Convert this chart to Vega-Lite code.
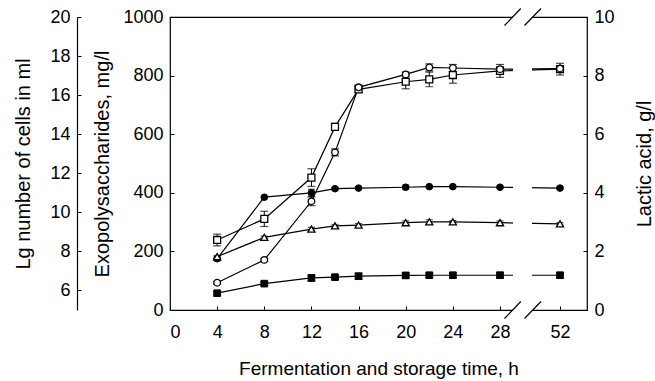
{
  "$schema": "https://vega.github.io/schema/vega-lite/v6.json",
  "width": 417,
  "height": 293,
  "autosize": {"type": "none"},
  "padding": {"left": 170, "top": 17, "right": 68, "bottom": 71},
  "background": "white",
  "config": {
    "view": {"stroke": "black", "strokeWidth": 1.2},
    "font": "Liberation Sans",
    "axis": {
      "grid": false,
      "domain": false,
      "tickColor": "black",
      "tickSize": -4,
      "tickWidth": 1,
      "labelFont": "Liberation Sans",
      "labelFontSize": 18,
      "labelColor": "black",
      "labelPadding": 11,
      "titleFont": "Liberation Sans",
      "titleFontSize": 20,
      "titleFontWeight": "normal",
      "titleColor": "black",
      "format": "d"
    }
  },
  "datasets": {
    "eps": [
      {"t": 4, "v": 239, "lo": 219, "hi": 259, "s": "A"},
      {"t": 8, "v": 311, "lo": 285, "hi": 337, "s": "A"},
      {"t": 12, "v": 452, "lo": 422, "hi": 482, "s": "A"},
      {"t": 14, "v": 625, "lo": 613, "hi": 637, "s": "A"},
      {"t": 16, "v": 753, "lo": 743, "hi": 763, "s": "A"},
      {"t": 20, "v": 779, "lo": 755, "hi": 803, "s": "A"},
      {"t": 22, "v": 787, "lo": 762, "hi": 812, "s": "A"},
      {"t": 24, "v": 802, "lo": 774, "hi": 830, "s": "A"},
      {"t": 28, "v": 816, "lo": 794, "hi": 838, "s": "A"},
      {"t": 52, "v": 822, "lo": 802, "hi": 842, "s": "A"},
      {"t": 4, "v": 93, "lo": 88, "hi": 98, "s": "B"},
      {"t": 8, "v": 171, "lo": 166, "hi": 176, "s": "B"},
      {"t": 12, "v": 371, "lo": 356, "hi": 386, "s": "B"},
      {"t": 14, "v": 538, "lo": 526, "hi": 550, "s": "B"},
      {"t": 16, "v": 760, "lo": 752, "hi": 768, "s": "B"},
      {"t": 20, "v": 804, "lo": 796, "hi": 812, "s": "B"},
      {"t": 22, "v": 828, "lo": 816, "hi": 840, "s": "B"},
      {"t": 24, "v": 826, "lo": 814, "hi": 838, "s": "B"},
      {"t": 28, "v": 822, "lo": 814, "hi": 830, "s": "B"},
      {"t": 52, "v": 824, "lo": 816, "hi": 832, "s": "B"}
    ],
    "lactic": [
      {"t": 4, "v": 1.75, "lo": 1.68, "hi": 1.82, "s": "C"},
      {"t": 8, "v": 3.85, "lo": 3.8, "hi": 3.9, "s": "C"},
      {"t": 12, "v": 4.0, "lo": 3.88, "hi": 4.12, "s": "C"},
      {"t": 14, "v": 4.14, "lo": 4.1, "hi": 4.18, "s": "C"},
      {"t": 16, "v": 4.16, "lo": 4.12, "hi": 4.2, "s": "C"},
      {"t": 20, "v": 4.19, "lo": 4.12, "hi": 4.26, "s": "C"},
      {"t": 22, "v": 4.21, "lo": 4.17, "hi": 4.25, "s": "C"},
      {"t": 24, "v": 4.21, "lo": 4.17, "hi": 4.25, "s": "C"},
      {"t": 28, "v": 4.19, "lo": 4.15, "hi": 4.23, "s": "C"},
      {"t": 52, "v": 4.16, "lo": 4.12, "hi": 4.2, "s": "C"},
      {"t": 4, "v": 1.82, "lo": 1.78, "hi": 1.86, "s": "D"},
      {"t": 8, "v": 2.48, "lo": 2.44, "hi": 2.52, "s": "D"},
      {"t": 12, "v": 2.76, "lo": 2.7, "hi": 2.82, "s": "D"},
      {"t": 14, "v": 2.87, "lo": 2.83, "hi": 2.91, "s": "D"},
      {"t": 16, "v": 2.9, "lo": 2.85, "hi": 2.95, "s": "D"},
      {"t": 20, "v": 2.98, "lo": 2.92, "hi": 3.04, "s": "D"},
      {"t": 22, "v": 3.01, "lo": 2.94, "hi": 3.08, "s": "D"},
      {"t": 24, "v": 3.01, "lo": 2.97, "hi": 3.05, "s": "D"},
      {"t": 28, "v": 2.98, "lo": 2.92, "hi": 3.04, "s": "D"},
      {"t": 52, "v": 2.94, "lo": 2.9, "hi": 2.98, "s": "D"}
    ],
    "cells": [
      {"t": 4, "v": 5.86, "lo": 5.78, "hi": 5.94, "s": "E"},
      {"t": 8, "v": 6.35, "lo": 6.27, "hi": 6.43, "s": "E"},
      {"t": 12, "v": 6.64, "lo": 6.49, "hi": 6.79, "s": "E"},
      {"t": 14, "v": 6.68, "lo": 6.6, "hi": 6.76, "s": "E"},
      {"t": 16, "v": 6.73, "lo": 6.58, "hi": 6.88, "s": "E"},
      {"t": 20, "v": 6.77, "lo": 6.64, "hi": 6.9, "s": "E"},
      {"t": 22, "v": 6.78, "lo": 6.66, "hi": 6.9, "s": "E"},
      {"t": 24, "v": 6.78, "lo": 6.65, "hi": 6.91, "s": "E"},
      {"t": 28, "v": 6.78, "lo": 6.64, "hi": 6.92, "s": "E"},
      {"t": 52, "v": 6.78, "lo": 6.65, "hi": 6.91, "s": "E"}
    ],
    "gap": [
      {"t": 33.2, "t2": 40.8, "v": -45, "v2": 1045}
    ],
    "slashes": [
      {"t": 29.8, "t2": 36.3, "v": 971, "v2": 1029},
      {"t": 37.8, "t2": 44.4, "v": 971, "v2": 1029},
      {"t": 29.8, "t2": 36.3, "v": -29, "v2": 29},
      {"t": 37.8, "t2": 44.4, "v": -29, "v2": 29}
    ]
  },
  "encoding": {
    "x": {
      "field": "t",
      "type": "quantitative",
      "scale": {"domain": [0, 28, 52, 54.3], "range": [0, 330, 390, 417], "nice": false, "zero": false},
      "axis": {
        "values": [0, 4, 8, 12, 16, 20, 24, 28, 52],
        "title": "Fermentation and storage time, h",
        "labelPadding": 17,
        "titlePadding": 18,
        "titleFontSize": 19
      }
    }
  },
  "layer": [
    {
      "data": {"name": "eps"},
      "encoding": {
        "y": {
          "field": "v",
          "type": "quantitative",
          "title": "Exopolysaccharides, mg/l",
          "scale": {"domain": [0, 1000], "nice": false},
          "axis": {"orient": "left", "values": [0, 200, 400, 600, 800, 1000], "title": "Exopolysaccharides, mg/l", "titlePadding": 10}
        }
      },
      "layer": [
        {"mark": {"type": "line", "color": "black", "strokeWidth": 1.2}, "encoding": {"detail": {"field": "s"}}},
        {"mark": {"type": "rule", "color": "black", "strokeWidth": 1}, "encoding": {"y": {"field": "lo", "type": "quantitative", "title": "Exopolysaccharides, mg/l"}, "y2": {"field": "hi"}}},
        {"mark": {"type": "tick", "color": "black", "orient": "horizontal", "size": 8, "thickness": 1.2}, "encoding": {"y": {"field": "lo", "type": "quantitative", "title": "Exopolysaccharides, mg/l"}}},
        {"mark": {"type": "tick", "color": "black", "orient": "horizontal", "size": 8, "thickness": 1.2}, "encoding": {"y": {"field": "hi", "type": "quantitative", "title": "Exopolysaccharides, mg/l"}}},
        {"transform": [{"filter": "datum.s === 'A'"}], "mark": {"type": "point", "shape": "square", "filled": true, "fill": "white", "stroke": "black", "strokeWidth": 1.3, "size": 48, "opacity": 1}},
        {"transform": [{"filter": "datum.s === 'B'"}], "mark": {"type": "point", "shape": "circle", "filled": true, "fill": "white", "stroke": "black", "strokeWidth": 1.3, "size": 44, "opacity": 1}}
      ]
    },
    {
      "data": {"name": "lactic"},
      "encoding": {
        "y": {
          "field": "v",
          "type": "quantitative",
          "title": "Lactic acid, g/l",
          "scale": {"domain": [0, 10], "nice": false},
          "axis": {"orient": "right", "values": [0, 2, 4, 6, 8, 10], "title": "Lactic acid, g/l", "titleAngle": 270, "titlePadding": 40}
        }
      },
      "layer": [
        {"mark": {"type": "line", "color": "black", "strokeWidth": 1.2}, "encoding": {"detail": {"field": "s"}}},
        {"mark": {"type": "rule", "color": "black", "strokeWidth": 1}, "encoding": {"y": {"field": "lo", "type": "quantitative", "title": "Lactic acid, g/l"}, "y2": {"field": "hi"}}},
        {"mark": {"type": "tick", "color": "black", "orient": "horizontal", "size": 7, "thickness": 1.2}, "encoding": {"y": {"field": "lo", "type": "quantitative", "title": "Lactic acid, g/l"}}},
        {"mark": {"type": "tick", "color": "black", "orient": "horizontal", "size": 7, "thickness": 1.2}, "encoding": {"y": {"field": "hi", "type": "quantitative", "title": "Lactic acid, g/l"}}},
        {"transform": [{"filter": "datum.s === 'C'"}], "mark": {"type": "point", "shape": "circle", "filled": true, "fill": "black", "stroke": "black", "strokeWidth": 1, "size": 44, "opacity": 1}},
        {"transform": [{"filter": "datum.s === 'D'"}], "mark": {"type": "point", "shape": "triangle-up", "filled": true, "fill": "white", "stroke": "black", "strokeWidth": 1.3, "size": 50, "opacity": 1}}
      ]
    },
    {
      "data": {"name": "cells"},
      "encoding": {
        "y": {
          "field": "v",
          "type": "quantitative",
          "title": "Lg number of cells in ml",
          "scale": {"domain": [5, 20], "nice": false, "zero": false},
          "axis": {"orient": "left", "offset": 93, "domain": true, "domainColor": "black", "domainWidth": 1.2, "values": [6, 8, 10, 12, 14, 16, 18, 20], "title": "Lg number of cells in ml", "titlePadding": 16}
        }
      },
      "layer": [
        {"mark": {"type": "line", "color": "black", "strokeWidth": 1.2}},
        {"mark": {"type": "rule", "color": "black", "strokeWidth": 1}, "encoding": {"y": {"field": "lo", "type": "quantitative", "title": "Lg number of cells in ml"}, "y2": {"field": "hi"}}},
        {"mark": {"type": "tick", "color": "black", "orient": "horizontal", "size": 8, "thickness": 1.5}, "encoding": {"y": {"field": "lo", "type": "quantitative", "title": "Lg number of cells in ml"}}},
        {"mark": {"type": "tick", "color": "black", "orient": "horizontal", "size": 8, "thickness": 1.5}, "encoding": {"y": {"field": "hi", "type": "quantitative", "title": "Lg number of cells in ml"}}},
        {"mark": {"type": "point", "shape": "square", "filled": true, "fill": "black", "stroke": "black", "strokeWidth": 1, "size": 44, "opacity": 1}}
      ]
    },
    {
      "data": {"name": "gap"},
      "mark": {"type": "rect", "color": "white"},
      "encoding": {
        "x2": {"field": "t2"},
        "y": {"field": "v", "type": "quantitative", "scale": {"domain": [0, 1000], "nice": false, "zero": false}, "axis": null},
        "y2": {"field": "v2"}
      }
    },
    {
      "data": {"name": "slashes"},
      "mark": {"type": "rule", "color": "black", "strokeWidth": 1.2},
      "encoding": {
        "x2": {"field": "t2"},
        "y": {"field": "v", "type": "quantitative", "scale": {"domain": [0, 1000], "nice": false, "zero": false}, "axis": null},
        "y2": {"field": "v2"}
      }
    }
  ],
  "resolve": {"scale": {"y": "independent"}}
}
